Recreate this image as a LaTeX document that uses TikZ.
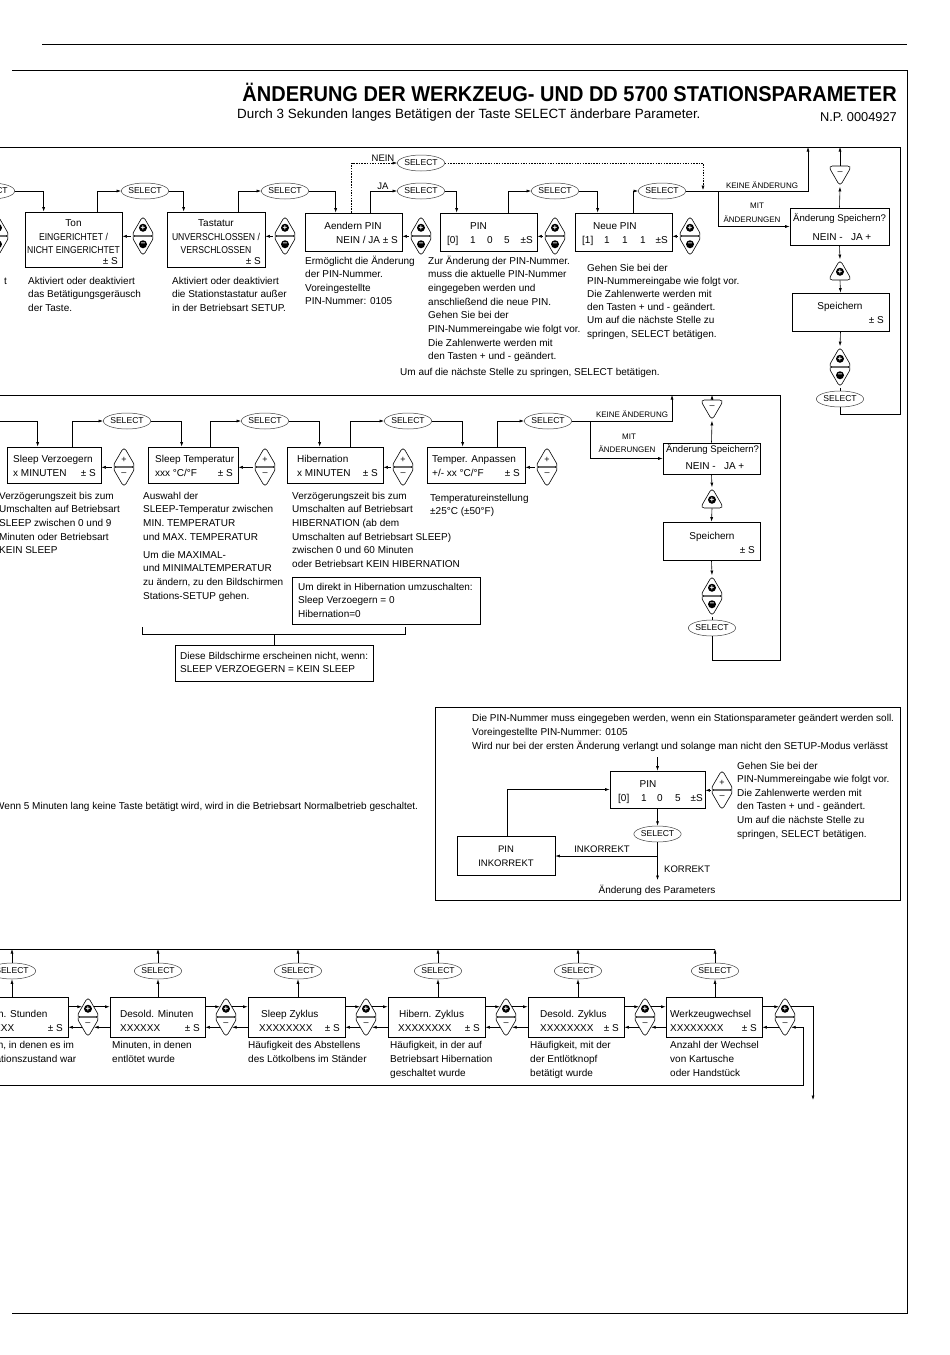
\documentclass[tikz,border=0pt]{standalone}
\usepackage{fontspec}
\setmainfont{Liberation Sans}
\newfontfamily\titlef{Liberation Sans}[FakeStretch=0.93]
\newfontfamily\condf{Liberation Sans}[FakeStretch=0.86]
\usetikzlibrary{arrows.meta,shapes.geometric,fit,calc}
\newcommand\txtf{\fontsize{10}{13.5}\selectfont}
\newcommand\smf{\fontsize{8}{9}\selectfont}
\newcommand\self{\fontsize{8.6}{9}\selectfont}
\newcommand\midf{\fontsize{9.5}{11}\selectfont}
\newcommand\bxf{\fontsize{9.6}{11}\selectfont}
\tikzset{
 ln/.style={line width=0.6pt},
 arr/.style={ln,-{Latex[length=4.5pt,width=3pt]}},
 dsh/.style={line width=0.5pt,dash pattern=on 1.5pt off 1.2pt},
 box/.style={draw,line width=0.7pt,inner sep=0},
 sel/.style={draw=black!75,line width=0.5pt,ellipse,minimum width=44pt,minimum height=16pt,inner sep=0,font=\self},
 pb/.style={draw,line width=0.6pt,regular polygon,regular polygon sides=3,minimum size=27pt,inner sep=0,rounded corners=4pt},
 mb/.style={pb,shape border rotate=180},
 dot/.style={circle,fill=black,inner sep=0,minimum size=8pt,text=white,font=\fontsize{8}{8}\selectfont\bfseries},
 txt/.style={inner sep=0,anchor=base west,font=\txtf},
 lbl/.style={inner sep=0,anchor=base,font=\smf},
}
\newcommand\captxt[4][13.6]{\foreach \l [count=\i from 0] in {#4}{\node[txt] at ({#2},{#3+\i*#1}) {\l};}}
\newcommand\bx[5]{\node[box,fit={(#2,#3) (#4,#5)}] (#1) {};}
\newcommand\pbF[3]{\node[pb] (#1) at (#2,{#3-6.75}) {}; \node[dot] at ([yshift=1.5pt]#1.center) {+};}
\newcommand\mbF[3]{\node[mb] (#1) at (#2,{#3+6.75}) {}; \node[dot] at ([yshift=-1.5pt]#1.center) {–};}
\newcommand\pbP[3]{\node[pb,font=\fontsize{9}{9}\selectfont] (#1) at (#2,{#3-6.75}) {+};}
\newcommand\mbP[3]{\node[mb,font=\fontsize{9}{9}\selectfont] (#1) at (#2,{#3+6.75}) {–};}
\begin{document}
\begin{tikzpicture}[x=1pt,y=-1pt]
\useasboundingbox (0,0) rectangle (950,1355);
\clip (0,0) rectangle (950,1355);
\fill[white] (0,0) rectangle (950,1355);
% page frame
\draw[line width=0.8pt] (42,44) -- (907,44);
\draw[line width=0.8pt] (12,70) -- (907,70) -- (907,1313) -- (12,1313);
% title
\node[anchor=base east,inner sep=0,font=\titlef\fontsize{21.5}{24}\selectfont\bfseries] (title) at (897,101) {ÄNDERUNG DER WERKZEUG- UND DD 5700 STATIONSPARAMETER};
\node[txt,font=\fontsize{13.4}{15}\selectfont] (sub) at (237,118) {Durch 3 Sekunden langes Betätigen der Taste SELECT änderbare Parameter.};
\node[txt,anchor=base east,font=\fontsize{12.8}{15}\selectfont] (np) at (897,121) {N.P. 0004927};

%================ ROW 1 =================
\coordinate (top1) at (0,147);
\draw[ln] (top1) -- (900,147) -- (900,414) -- (840,414);
\bx{ton}{25}{212}{122}{267}
\bx{tast}{167}{212}{265}{267}
\bx{aend}{305}{213}{402}{251}
\bx{pin}{440}{213}{537}{251}
\bx{neue}{575}{213}{672}{251}
\bx{spa}{790}{208}{889}{245}
\bx{spe}{792}{293}{889}{331}
\node[sel] (s0) at (-9,191) {SELECT};
\node[sel] (s1) at (145,191) {SELECT};
\node[sel] (s2) at (285,191) {SELECT};
\node[sel] (sja) at (421,191) {SELECT};
\node[sel] (snein) at (421,163) {SELECT};
\node[sel] (s3) at (555,191) {SELECT};
\node[sel] (s4) at (662,191) {SELECT};
\node[sel] (s5) at (840,399) {SELECT};
\pbF{p0}{-2}{236}\mbF{m0}{-2}{236}
\pbF{p1}{143}{236}\mbF{m1}{143}{236}
\pbF{p2}{285}{236}\mbF{m2}{285}{236}
\pbF{p3}{421}{236}\mbF{m3}{421}{236}
\pbF{p4}{555}{236}\mbF{m4}{555}{236}
\pbF{p5}{690}{236}\mbF{m5}{690}{236}
\draw[arr] (p1.corner 2) -- (p1.corner 2 -| ton.east);
\draw[arr] (p2.corner 2) -- (p2.corner 2 -| tast.east);
\draw[arr] (p3.corner 2) -- (p3.corner 2 -| aend.east);
\draw[arr] (p4.corner 2) -- (p4.corner 2 -| pin.east);
\draw[arr] (p5.corner 2) -- (p5.corner 2 -| neue.east);
\draw[arr] (s0.east) -| ([xshift=19pt]ton.north west);
\draw[arr] ([xshift=-25pt]ton.north east) |- (s1.west);
\draw[arr] (s1.east) -| ([xshift=17pt]tast.north west);
\draw[arr] ([xshift=-27pt]tast.north east) |- (s2.west);
\draw[arr] (s2.east) -| ([xshift=31pt]aend.north west);
\draw[arr] ([xshift=-32pt]aend.north east) |- (sja.west);
\draw[dsh,-{Latex[length=4.5pt,width=3pt]}] ([xshift=47pt]aend.north west) |- (snein.west);
\draw[arr] (sja.east) -| ([xshift=17pt]pin.north west);
\draw[arr] ([xshift=-29pt]pin.north east) |- (s3.west);
\draw[arr] (s3.east) -| ([xshift=23pt]neue.north west);
\draw[arr] ([xshift=-39pt]neue.north east) |- (s4.west);
\coordinate (j1) at (718,191);
\coordinate (d1) at (703,190);
\coordinate (k1) at (808,147);
\draw[dsh,-{Latex[length=4.5pt,width=3pt]}] (snein.east) -| (d1);
\draw[ln] (s4.east) -- (j1);
\draw[arr] (j1) -| (k1);
\draw[arr] (j1) |- (spa.west);
\node[lbl,font=\midf] at (383,161) {NEIN};
\node[lbl,font=\midf] at (383,189) {JA};
\node[lbl] at (762,188) {KEINE ÄNDERUNG};
\node[lbl] at (757,208) {MIT};
\node[lbl] at (752,222) {ÄNDERUNGEN};
% box texts row 1
\node[txt,anchor=base] at (73.5,226) {Ton};
\node[txt,anchor=base] at (73.5,240) {\condf EINGERICHTET /};
\node[txt,anchor=base] at (73.5,253.5) {\condf NICHT EINGERICHTET};
\node[txt,anchor=base east] at (118,264.5) {± S};
\node[txt,anchor=base] at (216,226) {Tastatur};
\node[txt,anchor=base] at (216,240) {\condf UNVERSCHLOSSEN /};
\node[txt,anchor=base] at (216,253.5) {\condf VERSCHLOSSEN};
\node[txt,anchor=base east] at (261,264.5) {± S};
\node[txt,anchor=base] at (353,229) {Aendern PIN};
\node[txt,anchor=base east] at (398,243) {NEIN / JA ± S};
\node[txt] at (470,229) {PIN};
\node[txt] at (447,243) {[0]};
\node[txt] at (470,243) {1};
\node[txt] at (487,243) {0};
\node[txt] at (504,243) {5};
\node[txt,anchor=base east] at (533,243) {±S};
\node[txt] at (593,229) {Neue PIN};
\node[txt] at (582,243) {[1]};
\node[txt] at (604,243) {1};
\node[txt] at (622,243) {1};
\node[txt] at (640,243) {1};
\node[txt,anchor=base east] at (668,243) {±S};
% captions row 1
\node[txt] at (4,284) {t};
\captxt{28}{284}{{Aktiviert oder deaktiviert},{das Betätigungsgeräusch},{der Taste.}}
\captxt{172}{284}{{Aktiviert oder deaktiviert},{die Stationstastatur außer},{in der Betriebsart SETUP.}}
\captxt{305}{264}{{Ermöglicht die Änderung},{der PIN-Nummer.},{Voreingestellte},{PIN-Nummer: 0105}}
\captxt[13.7]{428}{264}{{Zur Änderung der PIN-Nummer.},{muss die aktuelle PIN-Nummer},{eingegeben werden und},{anschließend die neue PIN.},{Gehen Sie bei der},{PIN-Nummereingabe wie folgt vor.},{Die Zahlenwerte werden mit},{den Tasten + und - geändert.}}
\node[txt] at (400,375) {Um auf die nächste Stelle zu springen, SELECT betätigen.};
\captxt[13.2]{587}{271}{{Gehen Sie bei der},{PIN-Nummereingabe wie folgt vor.},{Die Zahlenwerte werden mit},{den Tasten + und - geändert.},{Um auf die nächste Stelle zu},{springen, SELECT betätigen.}}
% right column 1
\mbP{rm1}{840}{166}
\pbF{rp1}{840}{280}
\pbF{rp2}{840}{367}\mbF{rm2}{840}{367}
\draw[arr] (spa.north) -- (rm1.corner 1);
\draw[arr] (rm1.north) -- (rm1.north |- top1);
\draw[arr] (spa.south) -- (rp1.corner 1);
\draw[arr] (rp1.south) -- (spe.north);
\draw[arr] (spe.south) -- (rp2.corner 1);
\draw[ln] (rm2.corner 1) -- (s5.north);
\draw[ln] (s5.south) -- (840,414);
\node[txt,font=\bxf] at (793,221) {Änderung Speichern?};
\node[txt,anchor=base] at (842,240) {NEIN -\ \ \ JA +};
\node[txt,anchor=base] at (840,309) {Speichern};
\node[txt,anchor=base east] at (884,323) {± S};

%================ ROW 2 =================
\coordinate (top2) at (0,395);
\coordinate (l2) at (0,421);
\draw[ln] (top2) -- (780,395) -- (780,660) -- (712,660);
\bx{v1}{7}{447}{101}{483}
\bx{v2}{148}{447}{238}{483}
\bx{v3}{287}{447}{383}{483}
\bx{v4}{427}{447}{525}{483}
\bx{spb}{663}{443}{760}{474}
\bx{spf}{663}{522}{760}{560}
\node[sel] (t1) at (127,421) {SELECT};
\node[sel] (t2) at (265,421) {SELECT};
\node[sel] (t3) at (408,421) {SELECT};
\node[sel] (t4) at (548,421) {SELECT};
\node[sel] (t5) at (712,628) {SELECT};
\pbP{q1}{124}{467}\mbP{n1}{124}{467}
\pbP{q2}{265}{467}\mbP{n2}{265}{467}
\pbP{q3}{403}{467}\mbP{n3}{403}{467}
\pbP{q4}{547}{467}\mbP{n4}{547}{467}
\draw[arr] (q1.corner 2) -- (q1.corner 2 -| v1.east);
\draw[arr] (q2.corner 2) -- (q2.corner 2 -| v2.east);
\draw[arr] (q3.corner 2) -- (q3.corner 2 -| v3.east);
\draw[arr] (q4.corner 2) -- (q4.corner 2 -| v4.east);
\draw[arr] (l2) -| ([xshift=31pt]v1.north west);
\draw[arr] ([xshift=-29pt]v1.north east) |- (t1.west);
\draw[arr] (t1.east) -| ([xshift=34pt]v2.north west);
\draw[arr] ([xshift=-28pt]v2.north east) |- (t2.west);
\draw[arr] (t2.east) -| ([xshift=33pt]v3.north west);
\draw[arr] ([xshift=-33pt]v3.north east) |- (t3.west);
\draw[arr] (t3.east) -| ([xshift=36pt]v4.north west);
\draw[arr] ([xshift=-28pt]v4.north east) |- (t4.west);
\coordinate (j2) at (590,421);
\coordinate (k2) at (672,395);
\draw[ln] (t4.east) -- (j2);
\draw[arr] (j2) -| (k2);
\draw[arr] (j2) |- (spb.west);
\node[lbl] at (632,417) {KEINE ÄNDERUNG};
\node[lbl] at (629,439) {MIT};
\node[lbl] at (627,452) {ÄNDERUNGEN};
\node[txt] at (13,462) {Sleep Verzoegern};
\node[txt] at (13,476) {x MINUTEN};
\node[txt,anchor=base east] at (96,476) {± S};
\node[txt] at (155,462) {Sleep Temperatur};
\node[txt] at (155,476) {xxx °C/°F};
\node[txt,anchor=base east] at (233,476) {± S};
\node[txt] at (297,462) {Hibernation};
\node[txt] at (297,476) {x MINUTEN};
\node[txt,anchor=base east] at (378,476) {± S};
\node[txt] at (432,462) {Temper. Anpassen};
\node[txt] at (432,476) {+/- xx °C/°F};
\node[txt,anchor=base east] at (520,476) {± S};
\node[txt,font=\bxf] at (666,452) {Änderung Speichern?};
\node[txt,anchor=base] at (715,469) {NEIN -\ \ \ JA +};
\node[txt,anchor=base] at (712,539) {Speichern};
\node[txt,anchor=base east] at (755,553) {± S};
\mbP{rm3}{712}{400}
\pbF{rp3}{712}{508}
\pbF{rp4}{712}{596}\mbF{rm4}{712}{596}
\draw[arr] (spb.north) -- (rm3.corner 1);
\draw[arr] (rm3.north) -- (rm3.north |- top2);
\draw[arr] (spb.south) -- (rp3.corner 1);
\draw[arr] (rp3.south) -- (spf.north);
\draw[arr] (spf.south) -- (rp4.corner 1);
\draw[ln] (rm4.corner 1) -- (t5.north);
\draw[ln] (t5.south) -- (712,660);
% captions row 2
\captxt[13.7]{-1}{499}{{Verzögerungszeit bis zum},{Umschalten auf Betriebsart},{SLEEP zwischen 0 und 9},{Minuten oder Betriebsart},{KEIN SLEEP}}
\captxt[13.7]{143}{499}{{Auswahl der},{SLEEP-Temperatur zwischen},{MIN. TEMPERATUR},{und MAX. TEMPERATUR}}
\captxt[13.7]{143}{558}{{Um die MAXIMAL-},{und MINIMALTEMPERATUR},{zu ändern, zu den Bildschirmen},{Stations-SETUP gehen.}}
\captxt[13.7]{292}{499}{{Verzögerungszeit bis zum},{Umschalten auf Betriebsart},{HIBERNATION (ab dem},{Umschalten auf Betriebsart SLEEP)},{zwischen 0 und 60 Minuten},{oder Betriebsart KEIN HIBERNATION}}
\captxt{430}{501}{{Temperatureinstellung},{±25°C (±50°F)}}
\bx{note}{292}{577}{480}{624}
\captxt[13.8]{298}{590}{{Um direkt in Hibernation umzuschalten:},{Sleep Verzoegern = 0},{Hibernation=0}}
\bx{nobox}{175}{645}{373}{681}
\draw[ln] (142,627) -- (142,634) -- (405,634) -- (405,627);
\draw[ln] (nobox.north |- 0,634) -- (nobox.north);
\captxt[13.5]{180}{659}{{Diese Bildschirme erscheinen nicht, wenn:},{SLEEP VERZOEGERN = KEIN SLEEP}}

% middle text
\node[txt] at (-5,809) {Wenn 5 Minuten lang keine Taste betätigt wird, wird in die Betriebsart Normalbetrieb geschaltet.};

%================ PIN SECTION =================
\bx{frame2}{435}{707}{900}{900}
\captxt[14]{472}{721}{{Die PIN-Nummer muss eingegeben werden, wenn ein Stationsparameter geändert werden soll.},{Voreingestellte PIN-Nummer: 0105},{Wird nur bei der ersten Änderung verlangt und solange man nicht den SETUP-Modus verlässt}}
\bx{pinb}{610}{771}{705}{808}
\coordinate (pin2in) at (657.5,757);
\draw[arr] (pin2in) -- (pinb.north);
\node[txt,anchor=base] at (648,787) {PIN};
\node[txt] at (618,801) {[0]};
\node[txt] at (641,801) {1};
\node[txt] at (657,801) {0};
\node[txt] at (675,801) {5};
\node[txt,anchor=base east] at (703,801) {±S};
\pbP{pp}{722}{790}\mbP{pm}{722}{790}
\draw[arr] (pp.corner 2) -- (pp.corner 2 -| pinb.east);
\captxt[13.6]{737}{769}{{Gehen Sie bei der},{PIN-Nummereingabe wie folgt vor.},{Die Zahlenwerte werden mit},{den Tasten + und - geändert.},{Um auf die nächste Stelle zu},{springen, SELECT betätigen.}}
\node[sel] (s6) at (657.5,834) {SELECT};
\draw[arr] (pinb.south) -- (s6.north);
\coordinate (j3) at (657.5,856);
\coordinate (res) at (657.5,880);
\draw[ln] (s6.south) -- (j3);
\bx{inko}{457}{836}{555}{875}
\draw[arr] (j3) -- (j3 -| inko.east);
\draw[arr] (j3) -- (res);
\draw[arr] ([xshift=51pt]inko.north west) |- (pinb.west);
\node[lbl,font=\midf] at (602,852) {INKORREKT};
\node[txt,font=\midf] at (664,872) {KORREKT};
\node[txt,anchor=base] at (657,893) {Änderung des Parameters};
\node[txt,anchor=base,font=\midf] at (506,852) {PIN};
\node[txt,anchor=base,font=\midf] at (506,866) {INKORREKT};

%================ ROW 3 =================
\coordinate (top3) at (0,949);
\coordinate (bot3) at (0,1085);
\coordinate (e1) at (813,1100);
\draw[ln] (top3) -- (715,949);
\bx{b0}{-40}{997}{68}{1037}
\bx{b1}{110}{997}{205}{1037}
\bx{b2}{248}{997}{345}{1037}
\bx{b3}{388}{997}{485}{1037}
\bx{b4}{528}{997}{624}{1037}
\bx{b5}{666}{997}{762}{1037}
\node[sel] (u0) at (12,971) {SELECT};
\node[sel] (u1) at (158,971) {SELECT};
\node[sel] (u2) at (298,971) {SELECT};
\node[sel] (u3) at (438,971) {SELECT};
\node[sel] (u4) at (578,971) {SELECT};
\node[sel] (u5) at (715,971) {SELECT};
\foreach \u/\b in {u0/b0,u1/b1,u2/b2,u3/b3,u4/b4,u5/b5}{
  \draw[arr] (\u.south |- \b.north) -- (\u.south);
  \draw[arr] (\u.north) -- (\u.north |- top3);
}
\pbF{x0}{88}{1017}\mbP{y0}{88}{1017}
\pbF{x1}{226}{1017}\mbP{y1}{226}{1017}
\pbF{x2}{366}{1017}\mbP{y2}{366}{1017}
\pbF{x3}{506}{1017}\mbP{y3}{506}{1017}
\pbF{x4}{645}{1017}\mbP{y4}{645}{1017}
\pbF{x5}{785}{1017}\mbP{y5}{785}{1017}
\foreach \p/\m/\l/\r in {x0/y0/b0/b1,x1/y1/b1/b2,x2/y2/b2/b3,x3/y3/b3/b4,x4/y4/b4/b5}{
  \draw[arr] (\l.east |- \p.side 1) -- (\p.side 1);
  \draw[arr] (\p.side 3) -- (\p.side 3 -| \r.west);
  \draw[arr] (\r.west |- \m.side 1) -- (\m.side 1);
  \draw[arr] (\m.side 3) -- (\m.side 3 -| \l.east);
}
\draw[arr] (b5.east |- x5.side 1) -- (x5.side 1);
\draw[arr] (y5.side 3) -- (y5.side 3 -| b5.east);
\draw[arr] (x5.side 3) -| (e1);
\draw[arr] (bot3) -- (803,1085) |- (y5.side 1);
% row 3 texts
\node[txt] at (-26,1017) {Hibern. Stunden};
\node[txt] at (-26,1031) {XXXXXX};
\node[txt,anchor=base east] at (63,1031) {± S};
\node[txt] at (120,1017) {Desold. Minuten};
\node[txt] at (120,1031) {XXXXXX};
\node[txt,anchor=base east] at (200,1031) {± S};
\node[txt] at (261,1017) {Sleep Zyklus};
\node[txt] at (259,1031) {XXXXXXXX};
\node[txt,anchor=base east] at (340,1031) {± S};
\node[txt] at (399,1017) {Hibern. Zyklus};
\node[txt] at (398,1031) {XXXXXXXX};
\node[txt,anchor=base east] at (480,1031) {± S};
\node[txt] at (540,1017) {Desold. Zyklus};
\node[txt] at (540,1031) {XXXXXXXX};
\node[txt,anchor=base east] at (619,1031) {± S};
\node[txt] at (670,1017) {Werkzeugwechsel};
\node[txt] at (670,1031) {XXXXXXXX};
\node[txt,anchor=base east] at (757,1031) {± S};
\captxt[14]{-34}{1048}{{Stunden, in denen es im},{Hibernationszustand war}}
\captxt[14]{112}{1048}{{Minuten, in denen},{entlötet wurde}}
\captxt[14]{248}{1048}{{Häufigkeit des Abstellens},{des Lötkolbens im Ständer}}
\captxt[14]{390}{1048}{{Häufigkeit, in der auf},{Betriebsart Hibernation},{geschaltet wurde}}
\captxt[14]{530}{1048}{{Häufigkeit, mit der},{der Entlötknopf},{betätigt wurde}}
\captxt[14]{670}{1048}{{Anzahl der Wechsel},{von Kartusche},{oder Handstück}}
\end{tikzpicture}
\end{document}
